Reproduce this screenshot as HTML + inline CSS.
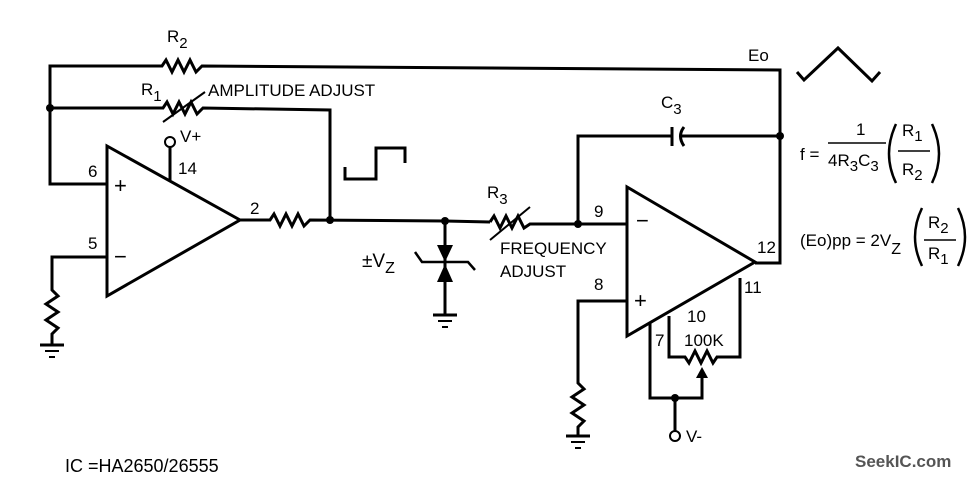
<!DOCTYPE html>
<html><head><style>body{margin:0;background:#fff}svg{display:block}text{font-family:"Liberation Sans",sans-serif;fill:#000}</style></head><body>
<svg width="974" height="478" viewBox="0 0 974 478" xmlns="http://www.w3.org/2000/svg">
<g fill="none" stroke="#000" stroke-width="3" stroke-linejoin="miter">
<polyline points="50,108 50,66 162,66 166,60 172,72 178,60 184,72 190,60 196,72 202,66 780,70 780,263 755,263"/>
<polyline points="50,108 163,108 167,102 173,114 179,102 185,114 191,102 197,114 203,108 330,110 330,220"/>
<line x1="163" y1="122" x2="205" y2="92" stroke-width="2"/>
<polyline points="50,108 50,184 107,184"/>
<polygon points="107,146 107,296 240,220"/>
<polyline points="107,257 52,257 52,290 58,296 46,304 58,312 46,320 58,328 52,334 52,345"/>
<line x1="40" y1="345" x2="64" y2="345"/><line x1="45" y1="351" x2="59" y2="351" stroke-width="2"/><line x1="49" y1="357" x2="55" y2="357" stroke-width="2"/>
<line x1="170" y1="147" x2="170" y2="180"/>
<polyline points="240,220 270,220 274,214 280,226 286,214 292,226 298,214 304,226 310,220 445,221 490,222"/>
<polyline points="490,222 494,216 500,228 506,216 512,228 518,216 524,228 530,224 578,224 627,224"/>
<line x1="490" y1="240" x2="530" y2="207" stroke-width="2"/>
<line x1="445" y1="221" x2="445" y2="315"/>
<polyline points="415,252 422,262 468,262 475,270" stroke-width="2.5"/>
<line x1="433" y1="315" x2="457" y2="315"/><line x1="438" y1="321" x2="452" y2="321" stroke-width="2"/><line x1="442" y1="327" x2="448" y2="327" stroke-width="2"/>
<polyline points="345,167 345,179 376,179 376,148 405,148 405,163"/>
<polyline points="797,72 804,80 838,48 872,81 880,72"/>
<polyline points="578,224 578,136 671,136"/>
<line x1="672" y1="127" x2="672" y2="146"/>
<path d="M684,127 Q677,136 684,146"/>
<line x1="680" y1="136" x2="780" y2="136"/>
<polygon points="627,187 627,336 755,262"/>
<polyline points="627,301 578,301 578,383 584,389 572,397 584,405 572,413 584,421 578,427 578,436"/>
<line x1="566" y1="436" x2="590" y2="436"/><line x1="571" y1="442" x2="585" y2="442" stroke-width="2"/><line x1="575" y1="448" x2="581" y2="448" stroke-width="2"/>
<polyline points="650,322 650,398 702,398 702,378"/>
<polyline points="669,316 669,357 685,357 689,363 695,351 701,363 707,351 713,363 717,357 740,357 740,278"/>
<line x1="675" y1="398" x2="675" y2="431"/>
<!-- parentheses -->
<g stroke-width="2.5">
<path d="M896,124 Q882,154 896,183"/>
<path d="M932,124 Q946,154 932,183"/>
<path d="M922,208 Q908,237 922,266"/>
<path d="M958,208 Q972,237 958,266"/>
</g>
</g>
<polygon points="696,378 708,378 702,367" fill="#000"/>
<polygon points="437,245 453,245 445,262" fill="#000"/>
<polygon points="437,282 453,282 445,264" fill="#000"/>
<circle cx="50" cy="108" r="4" fill="#000"/><circle cx="330" cy="220" r="4" fill="#000"/><circle cx="445" cy="221" r="4" fill="#000"/>
<circle cx="578" cy="224" r="4" fill="#000"/><circle cx="780" cy="136" r="4" fill="#000"/><circle cx="675" cy="398" r="4" fill="#000"/>
<circle cx="170" cy="142" r="5" fill="#fff" stroke="#000" stroke-width="2"/>
<circle cx="675" cy="436" r="5" fill="#fff" stroke="#000" stroke-width="2"/>
<g font-size="17">
<text x="167" y="42">R<tspan font-size="15" dy="6">2</tspan></text>
<text x="141" y="95">R<tspan font-size="15" dy="6">1</tspan></text>
<text x="208" y="96">AMPLITUDE ADJUST</text>
<text x="180" y="142">V+</text>
<text x="178" y="174">14</text>
<text x="88" y="177">6</text>
<text x="88" y="249">5</text>
<text x="114" y="193" font-size="22">+</text>
<text x="114" y="264" font-size="22">−</text>
<text x="250" y="214">2</text>
<text x="362" y="267" font-size="19">±V<tspan font-size="16" dy="6">Z</tspan></text>
<text x="487" y="198">R<tspan font-size="15" dy="6">3</tspan></text>
<text x="500" y="254">FREQUENCY</text>
<text x="500" y="277">ADJUST</text>
<text x="594" y="217">9</text>
<text x="594" y="290">8</text>
<text x="636" y="228" font-size="22">−</text>
<text x="634" y="308" font-size="22">+</text>
<text x="757" y="253">12</text>
<text x="744" y="293">11</text>
<text x="687" y="322">10</text>
<text x="684" y="346">100K</text>
<text x="655" y="346">7</text>
<text x="686" y="442">V-</text>
<text x="661" y="108">C<tspan font-size="15" dy="6">3</tspan></text>
<text x="748" y="61">Eo</text>
<text x="800" y="160">f =</text>
<text x="856" y="135">1</text>
<line x1="828" y1="143" x2="886" y2="143" stroke="#000" stroke-width="1.5"/>
<text x="828" y="166">4R<tspan font-size="15" dy="5">3</tspan><tspan dy="-5">C</tspan><tspan font-size="15" dy="5">3</tspan></text>
<text x="902" y="136">R<tspan font-size="15" dy="5">1</tspan></text>
<line x1="898" y1="151" x2="930" y2="151" stroke="#000" stroke-width="1.5"/>
<text x="902" y="175">R<tspan font-size="15" dy="5">2</tspan></text>
<text x="800" y="246">(Eo)pp = 2V<tspan font-size="16" dy="8">Z</tspan></text>
<text x="928" y="228">R<tspan font-size="15" dy="5">2</tspan></text>
<line x1="924" y1="240" x2="956" y2="240" stroke="#000" stroke-width="1.5"/>
<text x="928" y="259">R<tspan font-size="15" dy="5">1</tspan></text>
<text x="65" y="472" font-size="18">IC =HA2650/26555</text>
</g>
<text x="855" y="467" font-size="17" font-weight="bold" style="fill:#555">SeekIC.com</text>
</svg>
</body></html>
